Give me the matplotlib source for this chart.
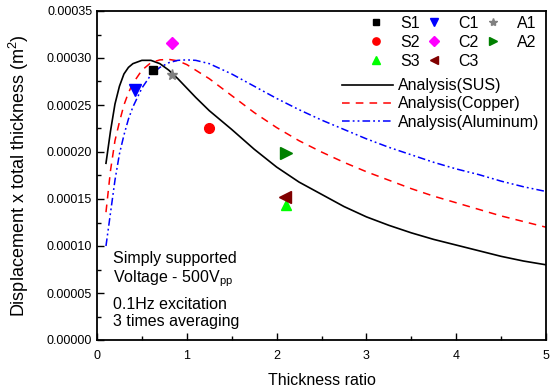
import matplotlib
matplotlib.use("Agg")
import matplotlib.pyplot as plt
from matplotlib.ticker import MultipleLocator, FormatStrFormatter

plt.rcParams['font.family'] = ['Liberation Sans', 'DejaVu Sans']
plt.rcParams['mathtext.fontset'] = 'custom'
plt.rcParams['mathtext.rm'] = 'Liberation Sans'
plt.rcParams['mathtext.it'] = 'Liberation Sans'

# Analysis curves
thick = [0.1, 0.15, 0.2, 0.25, 0.3, 0.35, 0.4, 0.5, 0.6, 0.7, 0.8, 0.9, 1.0, 1.1, 1.25,
         1.5, 1.75, 2.0, 2.25, 2.5, 2.75, 3.0, 3.25, 3.5, 3.75, 4.0, 4.25, 4.5, 4.75, 5.0]
sus_y = [0.000188, 0.000222, 0.000251, 0.000270, 0.000283, 0.000290, 0.000294, 0.0002975,
         0.0002975, 0.000294, 0.000287, 0.000278, 0.000268, 0.000258, 0.000244,
         0.000224, 0.000203, 0.000184, 0.000168, 0.000155, 0.000142, 0.000131, 0.000122,
         0.000114, 0.000107, 0.000101, 0.000095, 0.000089, 0.000084, 0.000080]
cu_y = [0.000136, 0.000180, 0.000212, 0.000232, 0.000250, 0.000263, 0.000273, 0.000287,
        0.000295, 0.000298, 0.0002985, 0.000297, 0.000293, 0.000287, 0.000278,
        0.000260, 0.000242, 0.000226, 0.000212, 0.000200, 0.000189, 0.000179, 0.000170,
        0.000161, 0.000153, 0.000146, 0.000139, 0.000132, 0.000126, 0.000120]
al_y = [0.000100, 0.000135, 0.000170, 0.000198, 0.000218, 0.000235, 0.000248, 0.000268,
        0.000282, 0.000290, 0.000295, 0.0002975, 0.000298, 0.0002975, 0.000294,
        0.000283, 0.000270, 0.000257, 0.000245, 0.000234, 0.000224, 0.000214, 0.000205,
        0.000197, 0.000189, 0.000182, 0.000176, 0.000169, 0.000163, 0.000158]

# Measured points
samples = ["S1", "S2", "S3", "C1", "C2", "C3", "A1", "A2"]
sample_x = [0.627, 1.25, 2.10, 0.423, 0.832, 2.09, 0.832, 2.11]
sample_y = [0.000287, 0.000225, 0.000144, 0.000266, 0.000316, 0.000152, 0.000282, 0.000199]
sample_marker = ["s", "o", "^", "v", "D", "<", "*", ">"]
sample_color = ["black", "red", "#00ff00", "blue", "magenta", "#800000", "gray", "green"]
sample_size = [6, 7, 7.5, 8, 6.5, 8, 8, 8]

fig = plt.figure(figsize=(5.54, 3.9), dpi=100)
ax = fig.add_axes([97 / 554, 1 - 340 / 390, 449 / 554, 329 / 390])

l1, = ax.plot(thick, sus_y, color="black", lw=1.2, label="Analysis(SUS)")
l2, = ax.plot(thick, cu_y, color="red", lw=1.1, ls=(0, (5, 4)), label="Analysis(Copper)")
l3, = ax.plot(thick, al_y, color="blue", lw=1.1, ls=(0, (5, 2, 1.2, 2, 1.2, 2)),
              label="Analysis(Aluminum)")

pts = []
for name, x, y, m, c, s in zip(samples, sample_x, sample_y, sample_marker, sample_color, sample_size):
    h, = ax.plot([x], [y], ls="none", marker=m, color=c, ms=s, mec=c, label=name)
    pts.append(h)

ax.set_xlim(0, 5)
ax.set_ylim(0, 0.00035)
ax.xaxis.set_major_locator(MultipleLocator(1))
ax.xaxis.set_minor_locator(MultipleLocator(0.5))
ax.yaxis.set_major_locator(MultipleLocator(0.00005))
ax.yaxis.set_minor_locator(MultipleLocator(0.000025))
ax.yaxis.set_major_formatter(FormatStrFormatter("%.5f"))
ax.tick_params(which="both", direction="in", labelsize=9, top=False, right=False)
ax.tick_params(which="major", length=5, width=1)
ax.tick_params(which="minor", length=3, width=1)
ax.tick_params(axis="x", pad=7)
for sp in ax.spines.values():
    sp.set_linewidth(1.3)

ax.set_xlabel("Thickness ratio", fontsize=11.5, labelpad=8)
ax.set_ylabel("Displacement x total thickness (m$^2$)", fontsize=13, labelpad=11)

leg1 = ax.legend(handles=pts, ncol=3, loc="upper right", bbox_to_anchor=(1.0, 1.015),
                 frameon=False, fontsize=11.5, markerscale=0.75, handlelength=1.2,
                 handletextpad=0.9, columnspacing=0.3, labelspacing=0.25, borderaxespad=0.2)
ax.add_artist(leg1)
ax.legend(handles=[l1, l2, l3], loc="upper right", bbox_to_anchor=(1.0, 0.815), frameon=False,
          fontsize=11.5, handlelength=3.2, handletextpad=0.3, labelspacing=0.2,
          borderaxespad=0.0)

ax.text(0.035, 0.27, "Simply supported\nVoltage - 500V$_{pp}$", transform=ax.transAxes,
        fontsize=11.5, va="top", ha="left", linespacing=1.15)
ax.text(0.035, 0.13, "0.1Hz excitation\n3 times averaging", transform=ax.transAxes,
        fontsize=11.5, va="top", ha="left", linespacing=1.15)

fig.savefig("out.png", dpi=100)
